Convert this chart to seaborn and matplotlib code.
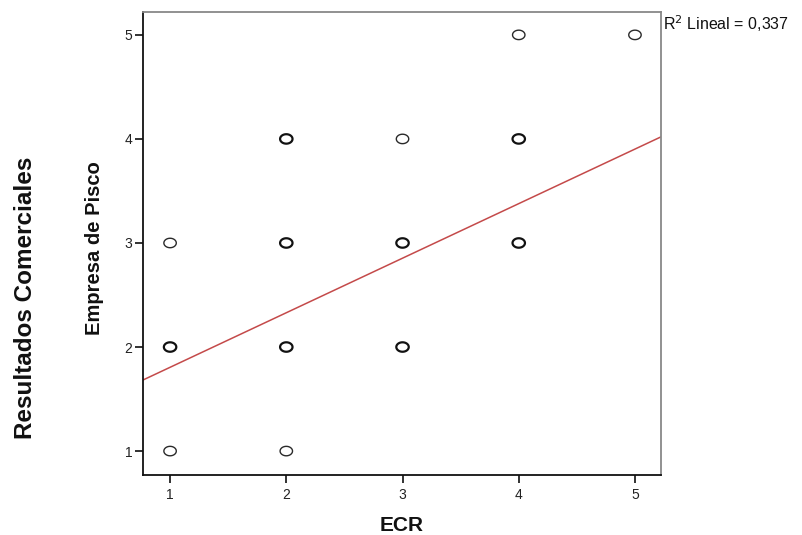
import matplotlib
matplotlib.use("Agg")
import matplotlib.pyplot as plt
from matplotlib.path import Path
import seaborn as sns
import pandas as pd
import numpy as np

# data
ecr = [1, 1, 1, 2, 2, 2, 2, 3, 3, 3, 4, 4, 4, 5]
pisco = [1, 2, 3, 1, 2, 3, 4, 2, 3, 4, 3, 4, 5, 5]
repeated = [False, True, False, False, True, True, True, True, True, False, True, True, False, False]
fit_x = [0.767, 5.224]
fit_y = [1.683, 4.02]
x_ticks = [1, 2, 3, 4, 5]
y_ticks = [1, 2, 3, 4, 5]
r2_text = "R$^2$ Lineal = 0,337"

sns.set_theme(style="white")
plt.rcParams['font.family'] = ['Liberation Sans', 'DejaVu Sans']

df = pd.DataFrame({"ECR": ecr, "Pisco": pisco, "rep": repeated})

# slightly wide ellipse marker (the reference is horizontally stretched)
t = np.linspace(0, 2 * np.pi, 60)
ell = Path(np.column_stack([np.cos(t), 0.76 * np.sin(t)]), closed=True)

fig = plt.figure(figsize=(8.02, 5.35), dpi=100)
ax = fig.add_axes([143/802, 1-475/535, (661-143)/802, (475-12)/535])

single = df[~df["rep"]]
multi = df[df["rep"]]
sns.scatterplot(data=single, x="ECR", y="Pisco", ax=ax, marker=ell, s=80,
                facecolor="none", edgecolor="#2a2a2a", linewidth=1.0, zorder=3)
sns.scatterplot(data=multi, x="ECR", y="Pisco", ax=ax, marker=ell, s=80,
                facecolor="none", edgecolor="#111111", linewidth=1.6, zorder=3)
sns.lineplot(x=fit_x, y=fit_y, ax=ax, color="#c44a4a", linewidth=1.1, zorder=2)

ax.set_xlim(0.767, 5.224)
ax.set_ylim(0.77, 5.22)
ax.set_xticks(x_ticks)
ax.set_yticks(y_ticks)
ax.tick_params(axis="both", which="both", direction="out", length=5.5, width=1.3,
               color="#222222", labelsize=10, labelcolor="#222222",
               bottom=True, left=True)
ax.tick_params(axis="x", pad=4)
ax.tick_params(axis="y", pad=2)

for side in ["left", "bottom"]:
    ax.spines[side].set_color("#111111")
    ax.spines[side].set_linewidth(1.3)
for side in ["top", "right"]:
    ax.spines[side].set_color("#888888")
    ax.spines[side].set_linewidth(1.3)

ax.set_xlabel("ECR", fontsize=15, fontweight="bold", labelpad=10, color="#111111")
ax.set_ylabel("")

narrow = ['Liberation Sans Narrow', 'Liberation Sans', 'DejaVu Sans']
fig.text(94/802, 1-248/535, "Empresa de Pisco", rotation=90, fontsize=14.5,
         fontweight="bold", family=narrow, ha="center", va="center", color="#111111")
fig.text(26/802, 1-298/535, "Resultados Comerciales", rotation=90, fontsize=17.5,
         fontweight="bold", family=narrow, ha="center", va="center", color="#111111")
fig.text(663/802, 1-24/535, r2_text, fontsize=11.5, ha="left", va="center",
         color="#111111")

fig.savefig("out.png", dpi=100)
